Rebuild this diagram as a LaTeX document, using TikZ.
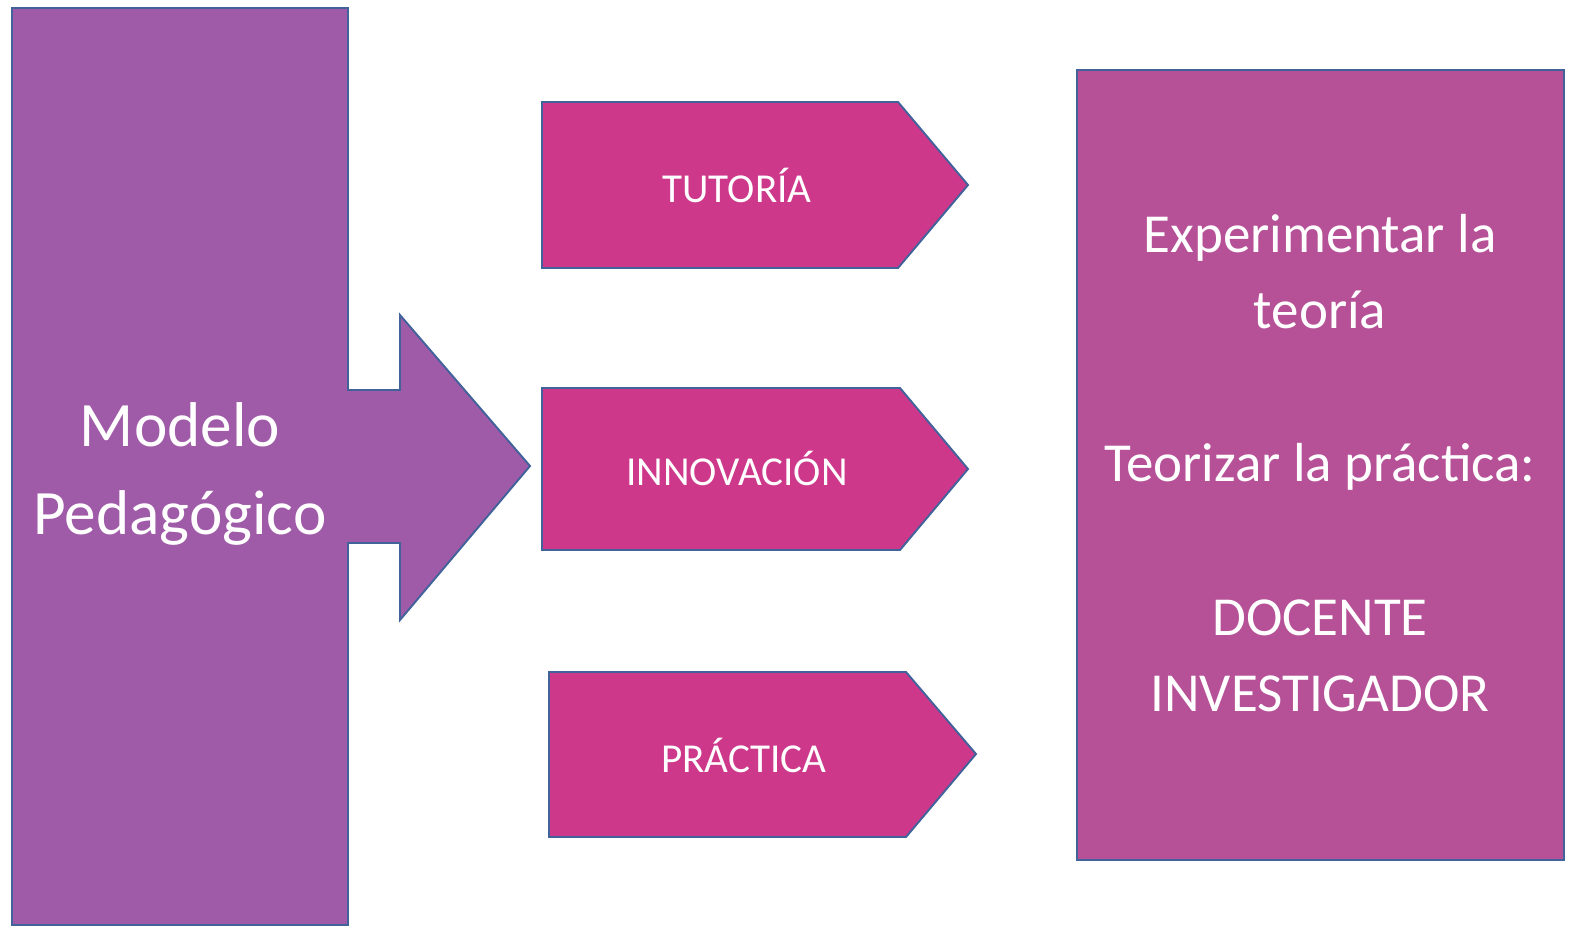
\documentclass[tikz,border=0pt]{standalone}
\usepackage{fontspec}
\setmainfont{Carlito}
\definecolor{modelo}{HTML}{A05BA8}
\definecolor{flecha}{HTML}{CE388B}
\definecolor{caja}{HTML}{B65197}
\definecolor{borde}{HTML}{41629A}
\tikzset{
	forma/.style={draw=borde, line width=1.1pt, line join=miter},
	texto/.style={text=white, align=center, inner sep=0pt}
}

\begin{document}
\begin{tikzpicture}[x=0.02cm, y=-0.02cm]
	\useasboundingbox (0,0) rectangle (1576,936);
	%\draw[help lines] (0,0) grid[step=100] (1576,936);
	\filldraw[forma, fill=modelo] (12,8) -- (348,8) -- (348,390) -- (400,390) -- (400,315) -- (530,466) -- (400,620) -- (400,543) -- (348,543) -- (348,925) -- (12,925) -- cycle;
	\node[texto, font=\fontsize{36}{50}\selectfont] (modelo) at (180,474) {Modelo\\Pedagógico};
	\filldraw[forma, fill=flecha] (542,102) -- (898,102) -- (968,185) -- (898,268) -- (542,268) -- cycle;
	\node[texto, font=\fontsize{23.4}{28}\selectfont] (tutoria) at (737,185) {TUTORÍA};
	\filldraw[forma, fill=flecha] (542,388) -- (900,388) -- (968,469) -- (900,550) -- (542,550) -- cycle;
	\node[texto, font=\fontsize{23.4}{28}\selectfont] (innovacion) at (737,468) {INNOVACIÓN};
	\filldraw[forma, fill=flecha] (549,672) -- (906,672) -- (976,754) -- (906,837) -- (549,837) -- cycle;
	\node[texto, font=\fontsize{23.4}{28}\selectfont] (practica) at (744,755) {PRÁCTICA};
	\filldraw[forma, fill=caja] (1077,70) rectangle (1564,860);
	\node[texto, font=\fontsize{31.3}{43.6}\selectfont] (docente) at (1320,463) {Experimentar la\\teoría\\[43.6pt]Teorizar la práctica:\\[43.6pt]DOCENTE\\INVESTIGADOR};
\end{tikzpicture}
\end{document}
